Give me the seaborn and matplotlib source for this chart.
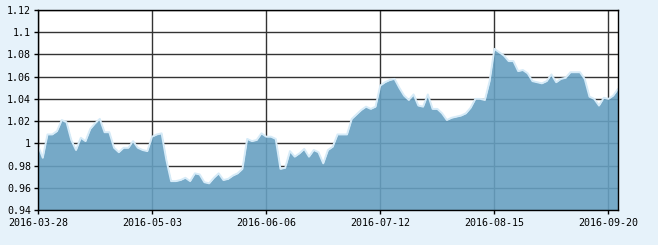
import matplotlib
matplotlib.use("Agg")
import matplotlib.pyplot as plt
import seaborn as sns
import numpy as np
import pandas as pd

values = [
    0.998, 0.987, 1.008, 1.008, 1.011, 1.021, 1.019, 1.003, 0.994, 1.005,
    1.002, 1.013, 1.018, 1.022, 1.010, 1.010, 0.996, 0.992, 0.996, 0.996,
    1.002, 0.996, 0.994, 0.993, 1.006, 1.008, 1.009, 0.985, 0.966, 0.966,
    0.967, 0.969, 0.966, 0.973, 0.972, 0.965, 0.964, 0.969, 0.973, 0.967,
    0.968, 0.971, 0.973, 0.977, 1.004, 1.002, 1.003, 1.009, 1.006, 1.006,
    1.004, 0.977, 0.978, 0.993, 0.988, 0.991, 0.995, 0.988, 0.994, 0.992,
    0.982, 0.994, 0.997, 1.008, 1.008, 1.008, 1.022, 1.026, 1.030, 1.033,
    1.031, 1.033, 1.052, 1.055, 1.057, 1.058, 1.050, 1.043, 1.039, 1.044,
    1.034, 1.033, 1.044, 1.031, 1.031, 1.027, 1.021, 1.023, 1.024, 1.025,
    1.027, 1.032, 1.040, 1.040, 1.039, 1.056, 1.085, 1.082, 1.079, 1.074,
    1.074, 1.065, 1.066, 1.063, 1.056, 1.055, 1.054, 1.056, 1.062, 1.055,
    1.058, 1.059, 1.064, 1.064, 1.064, 1.058, 1.042, 1.040, 1.034, 1.041,
    1.040, 1.043, 1.049,
]
tick_labels = ["2016-03-28", "2016-05-03", "2016-06-06",
               "2016-07-12", "2016-08-15", "2016-09-20"]
tick_step = 24
y_ticks = [0.94, 0.96, 0.98, 1.00, 1.02, 1.04, 1.06, 1.08, 1.10, 1.12]
y_labels = ["0.94", "0.96", "0.98", "1", "1.02", "1.04", "1.06", "1.08", "1.1", "1.12"]

df = pd.DataFrame({"idx": np.arange(len(values)), "value": values})

sns.set_style("white")
plt.rcParams["font.family"] = ["DejaVu Sans Mono"]

fig = plt.figure(figsize=(6.58, 2.45), dpi=100)
fig.patch.set_facecolor("#e6f2fa")
ax = fig.add_axes([38 / 658, 35 / 245, 580 / 658, 200 / 245])
ax.set_facecolor("white")

ax.set_axisbelow(True)
ax.grid(True, color="#333333", linewidth=1.0)

ax.fill_between(df["idx"], 0.94, df["value"], color="#67a0c1", alpha=0.9,
                linewidth=0, zorder=2)
sns.lineplot(data=df, x="idx", y="value", ax=ax, color="#d6ebf8",
             linewidth=1.4, zorder=3)

ax.set_xlim(0, len(values) - 1)
ax.set_ylim(0.94, 1.12)
ax.set_xticks([i * tick_step for i in range(len(tick_labels))])
ax.set_xticklabels(tick_labels)
ax.set_yticks(y_ticks)
ax.set_yticklabels(y_labels)
ax.set_xlabel("")
ax.set_ylabel("")

ax.tick_params(axis="both", which="both", direction="out", length=3,
               width=1, color="black", labelsize=7.2, labelcolor="black",
               bottom=True, left=True, pad=2)
ax.tick_params(axis="x", pad=3)

for s in ax.spines.values():
    s.set_visible(True)
    s.set_color("black")
    s.set_linewidth(1.0)
    s.set_zorder(5)

fig.savefig("out.png", dpi=100, facecolor=fig.get_facecolor())
